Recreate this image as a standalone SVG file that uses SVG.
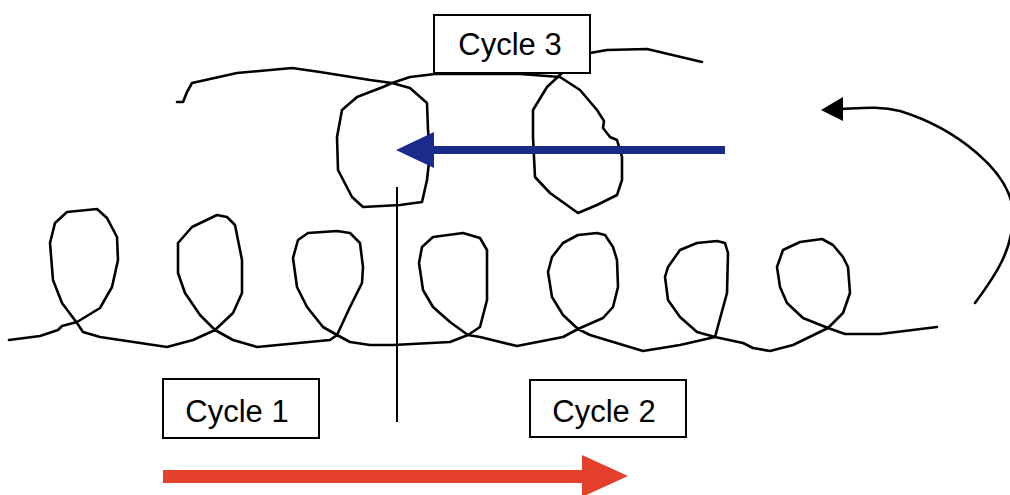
<svg xmlns="http://www.w3.org/2000/svg" width="1010" height="495" viewBox="0 0 1010 495">
<style>
.curve{fill:none;stroke:#000;stroke-width:2.6;stroke-linejoin:round;stroke-linecap:round}
.box{fill:#fff;stroke:#000;stroke-width:2}
.lbl{font-family:"Liberation Sans",Arial,sans-serif;font-size:31px;fill:#000;text-anchor:middle}
</style>
<rect width="1010" height="495" fill="#fff"/>
<g id="connectors">
<polyline class="curve" points="9,340 40,336 58,330 62,326 77,322 100,308 112,287 118,260 117,237 107,218 97,209 67,212 55,223 50,243 53,280 62,303 77,323 83,332 100,337 167,347 193,340 215,330 233,313 242,293 242,260 235,225 227,217 217,215 192,227 178,243 178,273 185,293 200,315 215,330 233,340 257,347 330,340 337,335 350,307 362,283 363,267 360,243 350,233 337,231 308,233 298,240 293,258 297,287 307,307 323,327 337,335 350,342 370,345 393,345 450,342 468,335 480,327 487,300 487,250 480,238 463,233 433,237 422,247 419,263 423,290 433,307 450,322 468,335 480,337 517,346 563,337 578,329 603,318 613,307 618,287 617,260 613,247 605,235 597,233 578,235 563,243 552,257 548,272 552,297 563,315 578,329 590,335 643,351 680,345 715,337 727,293 728,253 725,243 717,241 697,243 680,250 668,267 665,277 668,300 680,317 697,332 715,337 743,343 753,348 770,351 793,345 828,328 843,313 850,293 848,267 843,257 833,245 822,239 800,242 783,250 777,267 780,287 787,303 803,318 828,328 845,334 880,334 937,327"/>
<polyline class="curve" points="177,102 183,102 187,92 192,83 237,73 292,68 320,72 370,80 392,83 410,88 427,103 428,130 430,153 427,180 422,202 400,205 363,207 352,197 338,170 337,137 342,110 357,97 383,87 392,83 410,77 435,74 520,74 560,77 580,90 597,110 604,121 603,128 610,137 617,140 622,157 622,180 617,195 597,205 578,213 550,193 535,177 533,137 533,110 547,87 562,73 575,60 590,53 607,50 647,49 702,62"/>
<line x1="397" y1="187" x2="397" y2="422" stroke="#000" stroke-width="2"/>
<path class="curve" d="M975,303 C995,276 1013,250 1013,215 C1013,172 955,128 900,111 C880,106 862,108 842,109"/>
<polygon points="821,110 843,97 843,121" fill="#000"/>
<rect x="433" y="146" width="292" height="8" fill="#1C2A8C"/>
<polygon points="396,150 434,132 434,168" fill="#1C2A8C"/>
<rect x="163" y="470" width="420" height="13" fill="#E5402B"/>
<polygon points="582,455 628,476 582,497" fill="#E5402B"/>
</g>
<g id="cycle3">
<rect class="box" x="434" y="15" width="156" height="58"/>
<text class="lbl" x="510" y="55">Cycle 3</text>
</g>
<g id="cycle1">
<rect class="box" x="163" y="379" width="156" height="59"/>
<text class="lbl" x="237" y="422">Cycle 1</text>
</g>
<g id="cycle2">
<rect class="box" x="530" y="380" width="156" height="57"/>
<text class="lbl" x="604" y="422">Cycle 2</text>
</g>
</svg>
